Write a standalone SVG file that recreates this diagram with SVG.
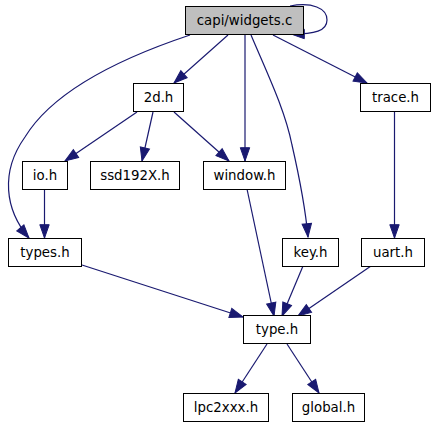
<svg xmlns="http://www.w3.org/2000/svg" width="435" height="427" viewBox="0 0 435 427">
<style>
.node rect{fill:#ffffff;stroke:#000000;stroke-width:1}
.node.root rect{fill:#bfbfbf}
.node text{font-family:"DejaVu Sans","Liberation Sans",sans-serif;font-size:13.33px;text-anchor:middle;fill:#000000}
.edges path{fill:none;stroke:#191970;stroke-width:1.2;marker-end:url(#arr)}
</style>
<defs>
<marker id="arr" markerUnits="userSpaceOnUse" markerWidth="16" markerHeight="12" refX="13.3" refY="5" orient="auto" overflow="visible">
<path d="M0,0.3 L13.3,5 L0,9.7 Z" fill="#191970" stroke="#191970" stroke-width="1"/>
</marker>
</defs>
<g class="edges" id="edges">
<path d="M290,6 C312,2 327,8 327,20 C327,31 315,34 291,34"/>
<path d="M228,35 L174,83"/>
<path d="M245,35 L245,161"/>
<path d="M251,35 C268,75 285,110 292,145 C300,180 306,215 308,237"/>
<path d="M273,35 L367,83"/>
<path d="M190,35 C130,55 55,88 25,137 C0,172 5,210 29,238"/>
<path d="M137,112 L65,161"/>
<path d="M153,112 L142,161"/>
<path d="M174,112 L229,161"/>
<path d="M44.5,189 L44.5,238"/>
<path d="M247,189 L274,316"/>
<path d="M303,266 L282,316"/>
<path d="M371,266 L298,316"/>
<path d="M394.5,111 L394.5,238"/>
<path d="M82,265 L243,317"/>
<path d="M267,344 L235,393"/>
<path d="M287,344 L319,393"/>
</g>
<g class="node root" id="n_widgets"><rect x="185.5" y="6.5" width="118" height="28"/><text x="244.5" y="25">capi/widgets.c</text></g>
<g class="node" id="n_2d"><rect x="133.5" y="83.5" width="50" height="28"/><text x="158.5" y="102">2d.h</text></g>
<g class="node" id="n_trace"><rect x="360.5" y="83.5" width="70" height="28"/><text x="395.5" y="102">trace.h</text></g>
<g class="node" id="n_io"><rect x="22.5" y="161.5" width="45" height="28"/><text x="45" y="180">io.h</text></g>
<g class="node" id="n_ssd"><rect x="90.5" y="161.5" width="89" height="28"/><text x="135" y="180">ssd192X.h</text></g>
<g class="node" id="n_window"><rect x="203.5" y="161.5" width="82" height="28"/><text x="244.5" y="180">window.h</text></g>
<g class="node" id="n_types"><rect x="8.5" y="238.5" width="73" height="28"/><text x="45" y="257">types.h</text></g>
<g class="node" id="n_key"><rect x="282.5" y="238.5" width="56" height="28"/><text x="310.5" y="257">key.h</text></g>
<g class="node" id="n_uart"><rect x="361.5" y="238.5" width="63" height="28"/><text x="393" y="257">uart.h</text></g>
<g class="node" id="n_type"><rect x="243.5" y="315.5" width="67" height="28"/><text x="277" y="334">type.h</text></g>
<g class="node" id="n_lpc"><rect x="183.5" y="393.5" width="85" height="28"/><text x="226" y="412">lpc2xxx.h</text></g>
<g class="node" id="n_global"><rect x="292.5" y="393.5" width="72" height="28"/><text x="328.5" y="412">global.h</text></g>
</svg>
